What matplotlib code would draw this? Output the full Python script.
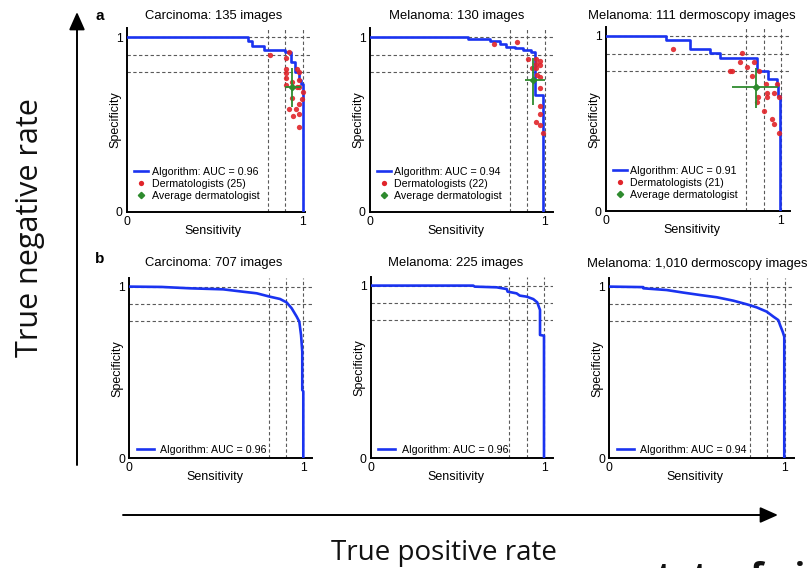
import matplotlib
matplotlib.use('Agg')
import matplotlib.pyplot as plt
from matplotlib.patches import FancyArrowPatch
from matplotlib.lines import Line2D

plt.rcParams['font.family'] = ['Liberation Sans', 'DejaVu Sans']

W, H = 807, 568

# ---------------- data ----------------
titles_a = ['Carcinoma: 135 images', 'Melanoma: 130 images', 'Melanoma: 111 dermoscopy images']
titles_b = ['Carcinoma: 707 images', 'Melanoma: 225 images', 'Melanoma: 1,010 dermoscopy images']
auc_a = [0.96, 0.94, 0.91]
auc_b = [0.96, 0.96, 0.94]
n_derm = [25, 22, 21]
ref_levels = [0.8, 0.9, 1.0]

# row a: algorithm ROC (step corners)
a1_sens = [0, 0.69, 0.71, 0.78, 0.90, 0.93, 0.955, 0.975, 0.99, 1.0]
a1_spec = [1.0, 0.975, 0.95, 0.925, 0.915, 0.86, 0.80, 0.755, 0.73, 0.0]
a2_sens = [0, 0.56, 0.686, 0.743, 0.78, 0.829, 0.876, 0.924, 0.945, 0.99]
a2_spec = [1.0, 0.989, 0.975, 0.96, 0.945, 0.935, 0.926, 0.916, 0.67, 0.0]
a3_sens = [0, 0.34, 0.48, 0.594, 0.651, 0.861, 0.928, 0.975, 0.985, 0.995]
a3_spec = [1.0, 0.975, 0.926, 0.901, 0.876, 0.80, 0.754, 0.72, 0.66, 0.0]

# row a: dermatologists
a1_derm_sens = [0.8125, 0.922, 0.903, 0.903, 0.903, 0.964, 0.979, 0.903, 0.936, 0.98, 0.903,
                0.964, 0.98, 1.0, 0.936, 0.993, 0.979, 0.922, 0.958, 0.979, 0.945, 0.979]
a1_derm_spec = [0.90, 0.916, 0.882, 0.815, 0.796, 0.815, 0.80, 0.768, 0.745, 0.754, 0.726,
                0.716, 0.716, 0.687, 0.653, 0.646, 0.615, 0.589, 0.589, 0.558, 0.55, 0.487]
a2_derm_sens = [0.711, 0.844, 0.907, 0.951, 0.974, 0.951, 0.974, 0.926, 0.951, 0.955, 0.974,
                0.974, 0.974, 0.974, 0.951, 0.974, 0.993]
a2_derm_spec = [0.958, 0.97, 0.872, 0.872, 0.863, 0.844, 0.84, 0.821, 0.821, 0.783, 0.773,
                0.71, 0.607, 0.558, 0.516, 0.497, 0.45]
a3_derm_sens = [0.381, 0.775, 0.766, 0.804, 0.848, 0.709, 0.718, 0.876, 0.833, 0.914, 0.975,
                0.87, 0.865, 0.918, 0.918, 0.962, 0.99, 0.905, 0.947, 0.962, 0.989]
a3_derm_spec = [0.926, 0.901, 0.85, 0.825, 0.85, 0.80, 0.80, 0.80, 0.773, 0.724, 0.724,
                0.653, 0.625, 0.672, 0.65, 0.672, 0.65, 0.571, 0.524, 0.497, 0.447]

# row a: average dermatologist with ranges
avg_sens = [0.94, 0.936, 0.855]
avg_spec = [0.716, 0.754, 0.71]
avg_sens_lo = [0.90, 0.888, 0.718]
avg_sens_hi = [0.987, 1.0, 0.985]
avg_spec_lo = [0.60, 0.611, 0.587]
avg_spec_hi = [0.825, 0.878, 0.815]

# row b: algorithm ROC curves
b1_sens = [0, 0.186, 0.349, 0.54, 0.655, 0.732, 0.809, 0.866, 0.904, 0.933, 0.962, 0.977,
           0.987, 0.994, 0.994, 1.0, 1.0]
b1_spec = [1.0, 0.998, 0.99, 0.984, 0.97, 0.961, 0.941, 0.928, 0.908, 0.874, 0.825, 0.796,
           0.718, 0.621, 0.398, 0.39, 0.0]
b2_sens = [0, 0.592, 0.60, 0.727, 0.785, 0.79, 0.842, 0.86, 0.90, 0.938, 0.961, 0.97,
           0.977, 0.977, 1.0, 1.0]
b2_spec = [1.0, 1.0, 0.994, 0.99, 0.98, 0.965, 0.955, 0.942, 0.936, 0.922, 0.903, 0.878,
           0.859, 0.714, 0.71, 0.0]
b3_sens = [0, 0.194, 0.194, 0.327, 0.422, 0.517, 0.612, 0.707, 0.783, 0.84, 0.897, 0.935,
           0.963, 0.973, 0.988, 0.997, 0.997]
b3_spec = [1.0, 0.997, 0.99, 0.98, 0.965, 0.951, 0.938, 0.918, 0.897, 0.879, 0.854, 0.825,
           0.805, 0.776, 0.737, 0.708, 0.0]

# ---------------- style ----------------
BLUE = '#1a33f0'
RED = '#e0242a'
GREEN = '#2e8b2e'
DASH = '#5a5a5a'
TOP = 1.05

fig = plt.figure(figsize=(W / 100, H / 100), dpi=100)


def make_ax(left, y0, sx, sy, xbound):
    ax = fig.add_axes([left / W, (H - y0) / H, TOP * sx / W, TOP * sy / H])
    ax.set_xlim(0, TOP)
    ax.set_ylim(0, TOP)
    for s in ['top', 'right']:
        ax.spines[s].set_visible(False)
    ax.spines['left'].set_linewidth(1.4)
    ax.spines['bottom'].set_linewidth(1.4)
    ax.spines['bottom'].set_bounds(0, xbound)
    ax.set_xticks([0, 1])
    ax.set_yticks([0, 1])
    ax.set_xticklabels(['0', '1'])
    ax.set_yticklabels(['0', '1'])
    ax.tick_params(length=0, labelsize=8.8, pad=3)
    ax.set_xlabel('Sensitivity', fontsize=9)
    ax.set_ylabel('Specificity', fontsize=9)
    ax.xaxis.set_label_coords(0.467, -0.07)
    ax.yaxis.set_label_coords(-0.03, 0.5)
    for v in ref_levels:
        ax.plot([0, TOP], [v, v], color=DASH, lw=0.8, dashes=(3, 2.2), zorder=1)
        ax.plot([v, v], [0, TOP], color=DASH, lw=0.8, dashes=(3, 2.2), zorder=1)
    return ax


pos_a = [(127, 212, 176, 175, 1.01), (370, 212, 174.5, 175, TOP), (606, 211, 175, 175, TOP)]
pos_b = [(129.3, 458.3, 174, 171.7, TOP), (370.7, 458.3, 173.3, 172.7, TOP),
         (609.3, 458.3, 175.5, 171.7, TOP)]

curves_a = [(a1_sens, a1_spec), (a2_sens, a2_spec), (a3_sens, a3_spec)]
derms_a = [(a1_derm_sens, a1_derm_spec), (a2_derm_sens, a2_derm_spec), (a3_derm_sens, a3_derm_spec)]
curves_b = [(b1_sens, b1_spec), (b2_sens, b2_spec), (b3_sens, b3_spec)]

title_pos_a = [(213.7, 16.5), (456.3, 16.5), (691.7, 16.5)]
title_pos_b = [(213.8, 262.5), (455.5, 262.5), (697, 264)]

for i in range(3):
    ax = make_ax(*pos_a[i])
    s, p = curves_a[i]
    ax.step(s, p, where='post', color=BLUE, lw=1.9, zorder=3)
    ds, dp = derms_a[i]
    ax.plot(ds, dp, 'o', color=RED, ms=3.8, mec='none', alpha=0.9, zorder=4)
    ax.errorbar([avg_sens[i]], [avg_spec[i]],
                xerr=[[avg_sens[i] - avg_sens_lo[i]], [avg_sens_hi[i] - avg_sens[i]]],
                yerr=[[avg_spec[i] - avg_spec_lo[i]], [avg_spec_hi[i] - avg_spec[i]]],
                fmt='D', color=GREEN, ms=3.2, elinewidth=1.3, capsize=0, zorder=5)
    handles = [Line2D([], [], color=BLUE, lw=1.9),
               Line2D([], [], ls='none', marker='o', color=RED, ms=3.8, mec='none'),
               Line2D([], [], ls='none', marker='D', color=GREEN, ms=3.2)]
    labels = ['Algorithm: AUC = %.2f' % auc_a[i], 'Dermatologists (%d)' % n_derm[i],
              'Average dermatologist']
    ax.legend(handles, labels, loc='lower left', bbox_to_anchor=(0.04, 0.06), frameon=False,
              fontsize=7.7, handlelength=1.3, handletextpad=0.3, labelspacing=0.2,
              borderpad=0, borderaxespad=0)
    fig.text(title_pos_a[i][0] / W, 1 - title_pos_a[i][1] / H, titles_a[i],
             ha='center', va='center', fontsize=9.4)

for i in range(3):
    ax = make_ax(*pos_b[i])
    s, p = curves_b[i]
    ax.plot(s, p, color=BLUE, lw=1.9, zorder=3)
    handles = [Line2D([], [], color=BLUE, lw=1.9)]
    ax.legend(handles, ['Algorithm: AUC = %.2f' % auc_b[i]], loc='lower left',
              bbox_to_anchor=(0.04, 0.02), frameon=False, fontsize=7.7, handlelength=1.6,
              handletextpad=0.6, borderpad=0, borderaxespad=0)
    fig.text(title_pos_b[i][0] / W, 1 - title_pos_b[i][1] / H, titles_b[i],
             ha='center', va='center', fontsize=9.4)

# panel letters
fig.text(100 / W, 1 - 16 / H, 'a', ha='center', va='center', fontsize=11, fontweight='bold')
fig.text(100 / W, 1 - 259 / H, 'b', ha='center', va='center', fontsize=11, fontweight='bold')

# big axes arrows
fig.add_artist(FancyArrowPatch((77 / W, 1 - 465 / H), (77 / W, 1 - 12 / H),
                               transform=fig.transFigure, arrowstyle='-|>,head_length=0.9,head_width=0.4',
                               mutation_scale=12, lw=1.4, color='black', shrinkA=0, shrinkB=0))
fig.add_artist(FancyArrowPatch((123 / W, 1 - 515 / H), (778 / W, 1 - 515 / H),
                               transform=fig.transFigure, arrowstyle='-|>,head_length=0.9,head_width=0.4',
                               mutation_scale=12, lw=1.4, color='black', shrinkA=0, shrinkB=0))

fig.text(30 / W, 1 - 228 / H, 'True negative rate', rotation=90, ha='center', va='center',
         fontsize=22, family=['Open Sans', 'DejaVu Sans'], color='#111111')
fig.text(443.5 / W, 1 - 560 / H, 'True positive rate', ha='center', va='baseline',
         fontsize=20, family=['Open Sans', 'DejaVu Sans'], color='#111111')
# watermark, only its top edge shows in the reference
fig.text(641 / W, 1 - 588 / H, 'stateof.ai', ha='left', va='baseline',
         fontsize=25, fontweight='bold', family=['Open Sans', 'DejaVu Sans'], color='#111111')

fig.savefig('out.png', dpi=100)
